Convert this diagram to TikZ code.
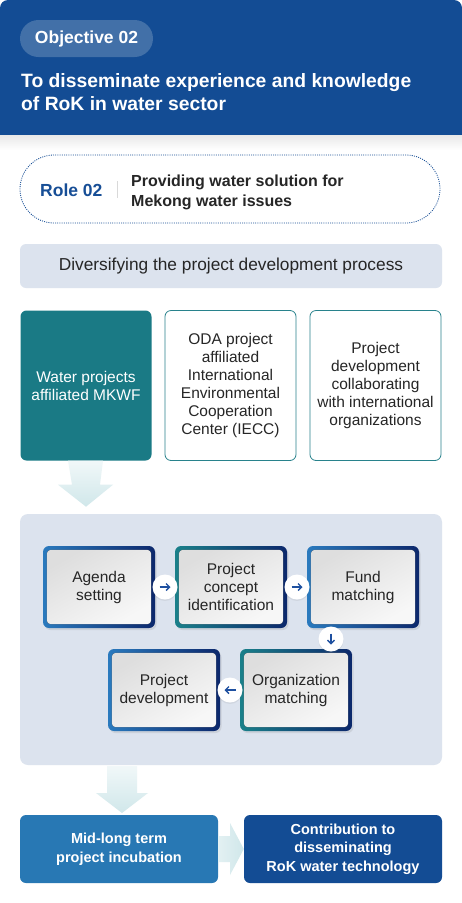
\documentclass[tikz,border=0pt]{standalone}
\usepackage{fontspec}
\setmainfont{Liberation Sans}
\usetikzlibrary{shadows,calc,arrows.meta}
\definecolor{hdr}{RGB}{19,76,148}
\definecolor{pillc}{RGB}{66,112,168}
\definecolor{roleblue}{RGB}{23,78,150}
\definecolor{panel}{RGB}{220,227,238}
\definecolor{teal}{RGB}{26,122,133}
\definecolor{tealline}{RGB}{40,130,140}
\definecolor{arrowL}{RGB}{208,231,234}
\definecolor{midblue}{RGB}{40,120,180}
\definecolor{txt}{RGB}{38,38,38}
\definecolor{bL}{RGB}{42,122,190}
\definecolor{tL}{RGB}{26,128,138}
\definecolor{navy}{RGB}{12,40,108}
\definecolor{arrblue}{RGB}{30,80,160}
\begin{document}
\begin{tikzpicture}[x=1pt,y=-1pt,
  boxtext/.style={font=\fontsize{15.5}{18}\selectfont, text=txt, align=center},
  sidebox/.style={rounded corners=6pt, minimum width=131pt, minimum height=150pt, inner sep=0pt, boxtext},
  stepouter/.style={rounded corners=6pt, minimum width=112pt, minimum height=82pt, inner sep=0pt,
     drop shadow={opacity=0.18, shadow xshift=1.5pt, shadow yshift=-2pt}},
  stepinner/.style={rounded corners=4pt, top color=black!13, bottom color=white!97!black, shading angle=30},
  circ/.style={circle, fill=white, minimum size=25pt, inner sep=0pt,
     drop shadow={opacity=0.12, shadow xshift=0pt, shadow yshift=-1.5pt}},
  arr/.style={arrblue, line width=1.4pt, -{Straight Barb[length=3.5pt,width=7pt]}},
  bottombox/.style={rounded corners=6pt, minimum width=198pt, minimum height=68pt, inner sep=0pt,
     text=white, align=center, font=\bfseries\fontsize{14.5}{18.5}\selectfont},
  bigarrow/.style={top color=arrowL!30, bottom color=arrowL}
]
\useasboundingbox (0,0) rectangle (462,903);
\fill[white] (0,0) rectangle (462,903);

% header
\fill[hdr, rounded corners=8pt] (0,0) rectangle (462,40);
\fill[hdr] (0,20) rectangle (462,135);
\shade[top color=black!9, bottom color=white] (0,135) rectangle (462,150);
\node[fill=pillc, rounded corners=18.5pt, minimum width=133pt, minimum height=37pt, inner sep=0pt,
      text=white, font=\bfseries\fontsize{17.5}{20}\selectfont] (obj) at (86.5,38.5) {Objective 02};
\node[anchor=base west, align=left, inner sep=0pt, text=white,
      font=\bfseries\fontsize{19.3}{23}\selectfont] (title) at (21,110)
  {To disseminate experience and knowledge\\of RoK in water sector};

% role pill
\node[draw=roleblue, line width=0.8pt, dash pattern=on 1pt off 1.2pt, fill=white, rounded corners=34pt,
      minimum width=420pt, minimum height=68pt, inner sep=0pt] (role) at (230,189) {};
\node[anchor=base west, inner sep=0pt, text=roleblue, font=\bfseries\fontsize{17.5}{20}\selectfont]
  (rolet) at (40,196) {Role 02};
\draw[black!15, line width=0.8pt] (117,181) -- (117,198);
\node[anchor=base west, align=left, inner sep=0pt, text=txt, font=\bfseries\fontsize{16}{20}\selectfont]
  (roled) at (131,206) {Providing water solution for\\Mekong water issues};

% diversifying bar
\node[fill=panel, rounded corners=6pt, minimum width=422pt, minimum height=44pt, inner sep=0pt,
      text=txt, font=\fontsize{17.3}{20}\selectfont] (div) at (231,266) {Diversifying the project development process};

% three boxes
\node[sidebox, fill=teal, text=white] (b1) at (86,385.5) {Water projects\\affiliated MKWF};
\node[sidebox, draw=tealline, line width=0.8pt, fill=white] (b2) at (230.5,385.5)
  {ODA project\\affiliated\\International\\Environmental\\Cooperation\\Center (IECC)};
\node[sidebox, draw=tealline, line width=0.8pt, fill=white] (b3) at (375.5,385.5)
  {Project\\development\\collaborating\\with international\\organizations};

% arrow 1
\shade[bigarrow] ($(b1.south)+(-18,0)$) -- ($(b1.south)+(17,0)$) -- ($(b1.south)+(14,24)$) -- ($(b1.south)+(27,24)$)
  -- ($(b1.south)+(0,46)$) -- ($(b1.south)+(-28,24)$) -- ($(b1.south)+(-14,24)$) -- cycle;

% panel
\node[fill=panel, rounded corners=8pt, minimum width=422pt, minimum height=251pt, inner sep=0pt] (pan) at (231,639.5) {};

% steps
\node[stepouter, left color=bL, right color=navy] (s1) at (99,587) {};
\fill[stepinner] ([xshift=4pt,yshift=-4pt]s1.north west) rectangle ([xshift=-4pt,yshift=4pt]s1.south east);
\node[boxtext] (s1t) at (s1) {Agenda\\setting};

\node[stepouter, left color=tL, right color=navy] (s2) at (231,587) {};
\fill[stepinner] ([xshift=4pt,yshift=-4pt]s2.north west) rectangle ([xshift=-4pt,yshift=4pt]s2.south east);
\node[boxtext] (s2t) at (s2) {Project\\concept\\identification};

\node[stepouter, left color=bL, right color=navy] (s3) at (363,587) {};
\fill[stepinner] ([xshift=4pt,yshift=-4pt]s3.north west) rectangle ([xshift=-4pt,yshift=4pt]s3.south east);
\node[boxtext] (s3t) at (s3) {Fund\\matching};

\node[stepouter, left color=tL, right color=navy] (s4) at (296,690) {};
\fill[stepinner] ([xshift=4pt,yshift=-4pt]s4.north west) rectangle ([xshift=-4pt,yshift=4pt]s4.south east);
\node[boxtext] (s4t) at (s4) {Organization\\matching};

\node[stepouter, left color=bL, right color=navy] (s5) at (164,690) {};
\fill[stepinner] ([xshift=4pt,yshift=-4pt]s5.north west) rectangle ([xshift=-4pt,yshift=4pt]s5.south east);
\node[boxtext] (s5t) at (s5) {Project\\development};

% circles with arrows
\node[circ] (c1) at ($(s1.east)!0.5!(s2.west)$) {};
\draw[arr] ([xshift=-5.5pt]c1.center) -- ([xshift=5.5pt]c1.center);
\node[circ] (c2) at ($(s2.east)!0.5!(s3.west)$) {};
\draw[arr] ([xshift=-5.5pt]c2.center) -- ([xshift=5.5pt]c2.center);
\node[circ] (c3) at (331,639) {};
\draw[arr] ([yshift=5.5pt]c3.center) -- ([yshift=-5.5pt]c3.center);
\node[circ] (c4) at ($(s4.west)!0.5!(s5.east)$) {};
\draw[arr] ([xshift=5.5pt]c4.center) -- ([xshift=-5.5pt]c4.center);

% bottom boxes
\node[bottombox, fill=midblue] (mid) at (119,849) {Mid-long term\\project incubation};
\node[bottombox, fill=hdr] (con) at (343,849) {Contribution to\\disseminating\\RoK water technology};

% arrow 2
\shade[bigarrow] (107,766) -- (137,766) -- (137,793) -- (148,793) -- (122,813) -- (96,793) -- (107,793) -- cycle;
% arrow 3
\shade[left color=arrowL!60, right color=arrowL] (mid.east |- 0,836) -- (230,836) -- (230,823) -- (con.west) -- (230,875) -- (230,862) -- (mid.east |- 0,862) -- cycle;
\end{tikzpicture}
\end{document}
